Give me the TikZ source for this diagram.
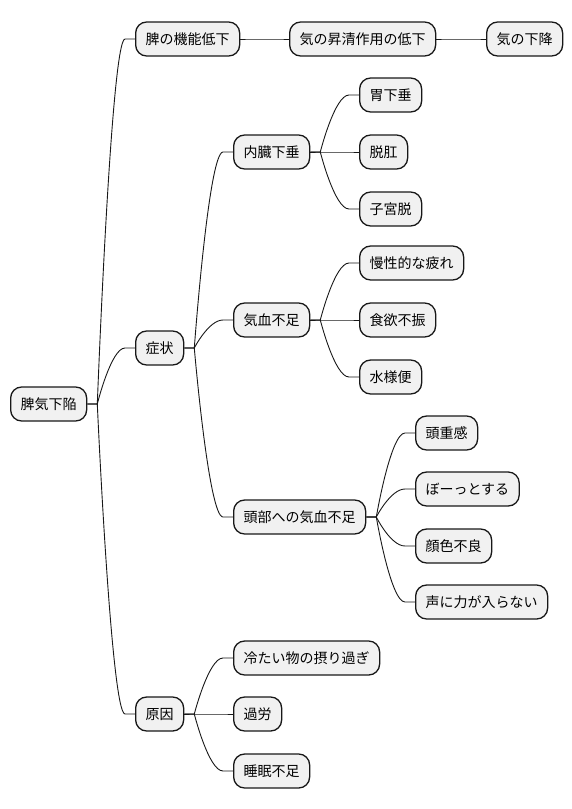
\documentclass[tikz,border=0pt]{standalone}
\usepackage{fontspec}
\newfontfamily\jpfont{Noto Sans CJK JP}
\usetikzlibrary{calc}
\definecolor{boxfill}{HTML}{F1F1F1}
\definecolor{boxline}{HTML}{181818}
\tikzset{
  mmbox/.style={draw=boxline, fill=boxfill, line width=1.3pt, rounded corners=11pt,
    anchor=west, minimum height=34pt, inner xsep=10pt, inner ysep=0pt,
    font=\jpfont\fontsize{14}{16}\selectfont, text=black},
  mmline/.style={draw=boxline, line width=0.9pt}
}
\newcommand{\mmconn}[2]{%
  \draw[mmline] let \p1=(#1.east), \p2=(#2.west) in
    (\p1) -- (\x1+10pt,\y1) .. controls (\x1+10pt,\y1) and ({(\x1+\x2)/2},\y2) .. (\x2-10pt,\y2) -- (\p2);}
\begin{document}
\begin{tikzpicture}[x=1pt,y=-1pt]
\useasboundingbox (0,0) rectangle (572,809);
\node[mmbox] (root) at (10,404) {脾気下陥};
\node[mmbox] (n1) at (135,39) {脾の機能低下};
\node[mmbox] (n1a) at (289,39) {気の昇清作用の低下};
\node[mmbox] (n1b) at (486,39) {気の下降};
\node[mmbox] (n2) at (135,348) {症状};
\node[mmbox] (n21) at (233,152) {内臓下垂};
\node[mmbox] (n211) at (359,95) {胃下垂};
\node[mmbox] (n212) at (359,152) {脱肛};
\node[mmbox] (n213) at (359,209) {子宮脱};
\node[mmbox] (n22) at (233,320) {気血不足};
\node[mmbox] (n221) at (359,263) {慢性的な疲れ};
\node[mmbox] (n222) at (359,320) {食欲不振};
\node[mmbox] (n223) at (359,377) {水様便};
\node[mmbox] (n23) at (233,517) {頭部への気血不足};
\node[mmbox] (n231) at (415,433) {頭重感};
\node[mmbox] (n232) at (415,489) {ぼーっとする};
\node[mmbox] (n233) at (415,546) {顔色不良};
\node[mmbox] (n234) at (415,602) {声に力が入らない};
\node[mmbox] (n3) at (135,714) {原因};
\node[mmbox] (n31) at (233,658) {冷たい物の摂り過ぎ};
\node[mmbox] (n32) at (233,714) {過労};
\node[mmbox] (n33) at (233,771) {睡眠不足};
\mmconn{root}{n1}
\mmconn{n1}{n1a}
\mmconn{n1a}{n1b}
\mmconn{root}{n2}
\mmconn{n2}{n21}
\mmconn{n21}{n211}
\mmconn{n21}{n212}
\mmconn{n21}{n213}
\mmconn{n2}{n22}
\mmconn{n22}{n221}
\mmconn{n22}{n222}
\mmconn{n22}{n223}
\mmconn{n2}{n23}
\mmconn{n23}{n231}
\mmconn{n23}{n232}
\mmconn{n23}{n233}
\mmconn{n23}{n234}
\mmconn{root}{n3}
\mmconn{n3}{n31}
\mmconn{n3}{n32}
\mmconn{n3}{n33}
\end{tikzpicture}
\end{document}
